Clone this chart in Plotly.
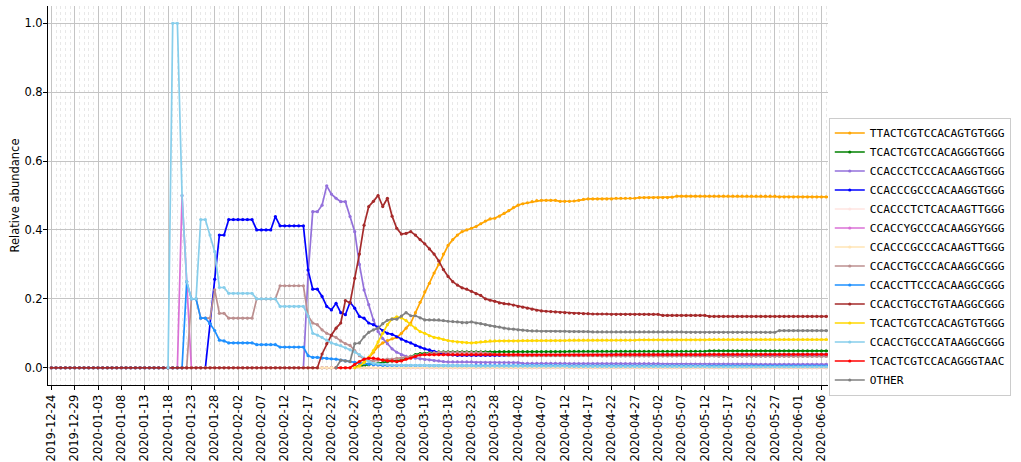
import pandas as pd
import plotly.graph_objects as go

# ---- data (daily, 2019-12-24 onward) ----
START_DATE = "2019-12-24"
N_DAYS = 168
dates = pd.date_range(START_DATE, periods=N_DAYS, freq="D")

labels = [
    "TTACTCGTCCACAGTGTGGG", "TCACTCGTCCACAGGGTGGG", "CCACCCTCCCACAAGGTGGG",
    "CCACCCGCCCACAAGGTGGG", "CCACCCTCTCACAAGTTGGG", "CCACCYGCCCACAAGGYGGG",
    "CCACCCGCCCACAAGTTGGG", "CCACCTGCCCACAAGGCGGG", "CCACCTTCCCACAAGGCGGG",
    "CCACCTGCCTGTAAGGCGGG", "TCACTCGTCCACAGTGTGGG", "CCACCTGCCCATAAGGCGGG",
    "TCACTCGTCCACAGGGTAAC", "OTHER",
]

ORANGE = ([0.0]*65 + [0.0, 0.008, 0.016, 0.028, 0.045, 0.062, 0.072, 0.079, 0.084, 0.088]
          + [0.1, 0.115, 0.13, 0.16, 0.19, 0.22, 0.245, 0.275, 0.3, 0.33]
          + [0.355, 0.372, 0.385, 0.395, 0.4, 0.405, 0.41, 0.418, 0.426, 0.432]
          + [0.434, 0.44, 0.448, 0.456, 0.465, 0.472, 0.476, 0.479, 0.482, 0.485]
          + [0.486, 0.486, 0.486, 0.486, 0.483, 0.483, 0.483, 0.484, 0.486, 0.489]
          + [0.49]*6 + [0.492]*4 + [0.492] + [0.494]*7 + [0.495, 0.498]
          + [0.498]*21 + [0.496]*12)

GREEN = ([0.0]*65 + [0.003, 0.005, 0.005, 0.008, 0.01, 0.012, 0.015, 0.018, 0.02, 0.02]
         + [0.022, 0.027, 0.033, 0.038, 0.041, 0.042, 0.044, 0.045, 0.046, 0.046]
         + [0.046]*11 + [0.047]*15 + [0.048]*30 + [0.049]*27)

PURPLE = ([0.0]*55 + [0.27, 0.453, 0.453, 0.472, 0.528, 0.504, 0.492, 0.482, 0.482, 0.439]
          + [0.395, 0.3, 0.226, 0.183, 0.139, 0.105, 0.085, 0.07, 0.055, 0.045]
          + [0.038, 0.033, 0.03, 0.028, 0.026, 0.024, 0.023, 0.021, 0.02, 0.018]
          + [0.017]*6 + [0.015]*10 + [0.013]*10 + [0.012]*20 + [0.011]*20 + [0.01]*17)

BLUE = ([0.0]*34 + [0.128, 0.257, 0.385, 0.385, 0.43, 0.43, 0.43, 0.43, 0.43, 0.43]
        + [0.4, 0.4, 0.4, 0.4, 0.439, 0.412, 0.412, 0.412, 0.412, 0.412]
        + [0.412, 0.284, 0.228, 0.228, 0.207, 0.178, 0.168, 0.187, 0.16, 0.154]
        + [0.19, 0.173, 0.149, 0.144, 0.13, 0.125, 0.118, 0.108, 0.1, 0.097]
        + [0.09, 0.083, 0.077, 0.072, 0.065, 0.06, 0.055, 0.052, 0.048, 0.044]
        + [0.04, 0.038, 0.037] + [0.036]*13 + [0.037]*20 + [0.038]*48)

MISTYROSE = [0.0]*168

ORCHID = [0.0]*28 + [0.5, 0.25] + [0.0]*138

MOCCASIN = [0.0]*168

ROSYBROWN = ([0.0]*30 + [0.2, 0.2, 0.144, 0.144, 0.144, 0.226, 0.158, 0.158, 0.144, 0.144]
             + [0.144, 0.144, 0.144, 0.144, 0.2, 0.2, 0.2, 0.2, 0.2, 0.238]
             + [0.238]*5 + [0.15, 0.13, 0.125, 0.11, 0.1]
             + [0.093, 0.088, 0.078, 0.07, 0.065, 0.05, 0.035, 0.025, 0.02, 0.02]
             + [0.022, 0.024, 0.025, 0.025, 0.027, 0.028, 0.03, 0.032, 0.035, 0.038]
             + [0.04, 0.042, 0.044, 0.045, 0.045, 0.045, 0.045, 0.045, 0.045, 0.045]
             + [0.045]*3 + [0.043, 0.041, 0.039, 0.038, 0.037]
             + [0.035]*20 + [0.034]*25 + [0.033]*25)

DODGER = ([0.0]*29 + [0.25, 0.2, 0.2, 0.144, 0.144, 0.128, 0.108, 0.08, 0.078, 0.072]
          + [0.072]*5 + [0.067]*5 + [0.06]*6 + [0.035, 0.03, 0.03, 0.028]
          + [0.027, 0.026, 0.025, 0.022, 0.02, 0.018, 0.016, 0.014, 0.012, 0.01]
          + [0.009, 0.008] + [0.007]*10 + [0.006]*30 + [0.005]*57)

BROWN = ([0.0]*57 + [0.0, 0.04, 0.07, 0.095, 0.115, 0.13, 0.195, 0.188, 0.26, 0.33]
         + [0.414, 0.468, 0.483, 0.5, 0.468, 0.492, 0.44, 0.405, 0.388, 0.39]
         + [0.395, 0.385, 0.372, 0.36, 0.345, 0.33, 0.31, 0.285, 0.265, 0.25]
         + [0.24, 0.232, 0.228, 0.222, 0.215, 0.21, 0.2, 0.196, 0.193, 0.188]
         + [0.186, 0.185, 0.182, 0.178, 0.176, 0.173, 0.17, 0.167, 0.165, 0.164]
         + [0.163, 0.162, 0.161, 0.16, 0.159, 0.158, 0.158, 0.157, 0.157, 0.156]
         + [0.156]*3 + [0.155]*11 + [0.152]*10 + [0.149]*27)

GOLD = ([None]*65 + [0.0, 0.005, 0.015, 0.03, 0.05, 0.075, 0.1, 0.125, 0.142, 0.148]
        + [0.145, 0.137, 0.125, 0.115, 0.105, 0.1, 0.093, 0.088, 0.086, 0.082]
        + [0.079, 0.077, 0.075, 0.074, 0.073, 0.072, 0.073, 0.075, 0.077, 0.078]
        + [0.078]*6 + [0.079]*10 + [0.08]*15 + [0.081]*15 + [0.082]*27)

SKYBLUE = ([None]*25 + [0.0, 1.0, 1.0, 0.5, 0.25, 0.2, 0.2, 0.43, 0.43, 0.385]
           + [0.337, 0.233, 0.233, 0.216, 0.216, 0.216, 0.216, 0.216, 0.216, 0.2]
           + [0.2, 0.2, 0.2, 0.2, 0.178, 0.178, 0.178, 0.178, 0.178, 0.178]
           + [0.15, 0.1, 0.095, 0.088, 0.08, 0.072, 0.068, 0.064, 0.058, 0.052]
           + [0.046, 0.038, 0.028, 0.018, 0.013, 0.011, 0.01, 0.009, 0.008, 0.008]
           + [0.007]*6 + [0.006]*10 + [0.005]*20 + [0.004]*30 + [0.003]*27)

RED = ([None]*61 + [0.0, 0.0, 0.0, 0.0, 0.01, 0.018, 0.025, 0.028, 0.028, 0.026]
       + [0.022, 0.02, 0.02, 0.018, 0.02, 0.025, 0.028, 0.033, 0.037, 0.038]
       + [0.038]*20 + [0.037]*20 + [0.038]*20 + [0.039]*27)

OTHER = ([None]*61 + [0.0, 0.022, 0.02, 0.018, 0.07, 0.072, 0.09, 0.103, 0.11, 0.115]
         + [0.128, 0.138, 0.141, 0.141, 0.15, 0.16, 0.151, 0.151, 0.145, 0.139]
         + [0.139, 0.139, 0.139, 0.137, 0.135, 0.134, 0.133, 0.131, 0.131, 0.133]
         + [0.13, 0.128, 0.125, 0.122, 0.12, 0.118, 0.115, 0.113, 0.112, 0.11]
         + [0.109, 0.108, 0.107, 0.107] + [0.106]*6 + [0.105]*5
         + [0.104]*20 + [0.103]*20 + [0.108]*12)

series = [ORANGE, GREEN, PURPLE, BLUE, MISTYROSE, ORCHID, MOCCASIN,
          ROSYBROWN, DODGER, BROWN, GOLD, SKYBLUE, RED, OTHER]
colors = ["#FFA500", "#008000", "#9370DB", "#0000FF", "#FFE4E1", "#DA70D6", "#FFE4B5",
          "#BC8F8F", "#1E90FF", "#A52A2A", "#FFD700", "#87CEEB", "#FF0000", "#808080"]

fig = go.Figure()
for name, vals, col in zip(labels, series, colors):
    fig.add_trace(go.Scatter(
        x=dates, y=vals, name=name, mode="lines+markers",
        line=dict(color=col, width=1.7),
        marker=dict(color=col, size=3.2, symbol="circle"),
        connectgaps=False,
    ))

DAY_MS = 86400000
fig.update_layout(
    width=1021, height=462,
    margin=dict(l=48, r=193, t=6, b=77, autoexpand=False),
    plot_bgcolor="white", paper_bgcolor="white",
    font=dict(family="DejaVu Sans", size=11.5, color="black"),
    showlegend=True,
    legend=dict(
        x=1.001, xanchor="left", y=0.339, yanchor="middle",
        bordercolor="#cccccc", borderwidth=1, bgcolor="white",
        font=dict(family="DejaVu Sans Mono", size=11.2, color="black"),
        itemwidth=30, tracegroupgap=0,
    ),
    xaxis=dict(
        type="date", automargin=False,
        range=["2019-12-23 06:45", "2020-06-07 09:30"],
        tickmode="linear", tick0=START_DATE, dtick=5 * DAY_MS,
        tickformat="%Y-%m-%d", tickangle=-90,
        tickfont=dict(family="DejaVu Sans", size=11.5, color="black"),
        showgrid=True, gridcolor="#c4c4c4", gridwidth=1,
        showline=True, linecolor="black", linewidth=1,
        ticks="outside", ticklen=4, tickcolor="black",
        zeroline=False,
        minor=dict(tick0=START_DATE, dtick=DAY_MS, showgrid=True,
                   gridcolor="#e8e8e8", griddash="dot", gridwidth=0.8),
    ),
    yaxis=dict(
        automargin=False,
        range=[-0.05, 1.05], tickmode="linear", tick0=0, dtick=0.2,
        tickformat=".1f",
        tickfont=dict(family="DejaVu Sans", size=11.5, color="black"),
        ticklabelstandoff=-2,
        showgrid=True, gridcolor="#c4c4c4", gridwidth=1,
        showline=True, linecolor="black", linewidth=1,
        ticks="outside", ticklen=4, tickcolor="black",
        zeroline=False,
        title=dict(text="Relative abundance", standoff=2,
                   font=dict(family="DejaVu Sans", size=11.5, color="black")),
    ),
)

fig.write_html("out.html",
               config={"displayModeBar": False},
               post_script="document.body.style.margin='0';document.body.style.padding='0';")
